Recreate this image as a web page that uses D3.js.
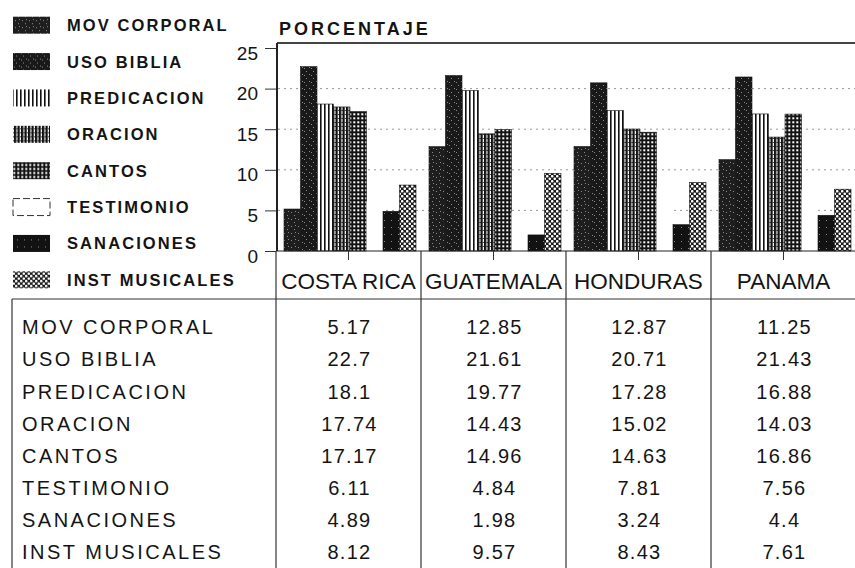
<!DOCTYPE html>
<html>
<head>
<meta charset="utf-8">
<script src="https://cdn.jsdelivr.net/npm/d3@7"></script>
<style>
    body { margin: 0; background: #fff; }
    svg text { font-family: "Liberation Sans", Arial, sans-serif; fill: #141414; }
</style>
</head>
<body>
<div class="container"></div>
<script>
const countries = ["COSTA RICA", "GUATEMALA", "HONDURAS", "PANAMA"];
const series = [
    "MOV CORPORAL", "USO BIBLIA", "PREDICACION", "ORACION",
    "CANTOS", "TESTIMONIO", "SANACIONES", "INST MUSICALES",
];
const costaRica = [5.17, 22.7, 18.1, 17.74, 17.17, 6.11, 4.89, 8.12];
const guatemala = [12.85, 21.61, 19.77, 14.43, 14.96, 4.84, 1.98, 9.57];
const honduras = [12.87, 20.71, 17.28, 15.02, 14.63, 7.81, 3.24, 8.43];
const panama = [11.25, 21.43, 16.88, 14.03, 16.86, 7.56, 4.4, 7.61];
const yTicks = [0, 5, 10, 15, 20, 25];
const gridTicks = [5, 10, 15, 20];

const values = [costaRica, guatemala, honduras, panama];

const w = 855;
const h = 568;

const svg = d3
    .select(".container")
    .append("svg")
    .attr("width", w)
    .attr("height", h);

// fill patterns, imitating the printed hatches
const defs = svg.append("defs");
const addPattern = (id, size, draw) => {
    const p = defs.append("pattern")
        .attr("id", id)
        .attr("patternUnits", "userSpaceOnUse")
        .attr("width", size[0])
        .attr("height", size[1]);
    draw(p);
};
const speckle = (bg, dots) => (p) => {
    p.append("rect").attr("width", 7).attr("height", 7).attr("fill", bg);
    dots.forEach(([x, y]) =>
        p.append("rect").attr("x", x).attr("y", y).attr("width", 1).attr("height", 1).attr("fill", "#8a8a8a"));
};
addPattern("p0", [7, 7], speckle("#1e1e1e", [[1, 2], [4, 5], [5, 1]]));
addPattern("p1", [7, 7], speckle("#191919", [[2, 1], [5, 4], [0, 5]]));
addPattern("p2", [4, 4], (p) => {
    p.append("rect").attr("width", 4).attr("height", 4).attr("fill", "#fff");
    p.append("rect").attr("width", 1.6).attr("height", 4).attr("fill", "#111");
});
addPattern("p3", [3.5, 4], (p) => {
    p.append("rect").attr("width", 3.5).attr("height", 4).attr("fill", "#fff");
    p.append("rect").attr("width", 2.3).attr("height", 4).attr("fill", "#111");
    p.append("rect").attr("x", 2.3).attr("y", 2).attr("width", 1.2).attr("height", 1).attr("fill", "#444");
});
addPattern("p4", [4, 4], (p) => {
    p.append("rect").attr("width", 4).attr("height", 4).attr("fill", "#141414");
    p.append("rect").attr("x", 1.3).attr("y", 1.3).attr("width", 2).attr("height", 2).attr("fill", "#fff");
});
addPattern("p5", [4, 4], (p) => {
    p.append("rect").attr("width", 4).attr("height", 4).attr("fill", "#fff");
});
addPattern("p6", [7, 7], speckle("#121212", [[3, 3]]));
addPattern("p7", [5, 5], (p) => {
    p.append("rect").attr("width", 5).attr("height", 5).attr("fill", "#1a1a1a");
    p.append("circle").attr("cx", 1.25).attr("cy", 1.25).attr("r", 1.3).attr("fill", "#fff");
    p.append("circle").attr("cx", 3.75).attr("cy", 3.75).attr("r", 1.3).attr("fill", "#fff");
});

const xScale = d3.scaleBand().domain(countries).range([276, 856]);
const xInner = d3.scaleBand().domain(series).range([8, 140]);
const yScale = d3.scaleLinear().domain([0, 25]).range([251, 48]);

// title
svg.append("text")
    .attr("x", 279)
    .attr("y", 35)
    .attr("font-size", 18)
    .attr("font-weight", "bold")
    .attr("letter-spacing", 3)
    .text("PORCENTAJE");

// dotted grid
svg.append("g")
    .selectAll("line")
    .data(gridTicks)
    .enter()
    .append("line")
    .attr("x1", 278)
    .attr("x2", 856)
    .attr("y1", (d) => yScale(d))
    .attr("y2", (d) => yScale(d))
    .attr("stroke", "#999")
    .attr("stroke-width", 1)
    .attr("stroke-dasharray", "2,4");

// bars
const groups = svg.selectAll(".country")
    .data(countries)
    .enter()
    .append("g")
    .attr("class", "country")
    .attr("transform", (d) => `translate(${xScale(d)},0)`);

groups.selectAll("rect")
    .data((d, i) => values[i].map((v, j) => ({ s: series[j], v, j })))
    .enter()
    .append("rect")
    .attr("x", (d) => xInner(d.s))
    .attr("width", xInner.bandwidth())
    .attr("y", (d) => yScale(d.v))
    .attr("height", (d) => yScale(0) - yScale(d.v))
    .attr("fill", (d) => `url(#p${d.j})`)
    .attr("stroke", (d) => (d.j === 5 ? "none" : "#111"))
    .attr("stroke-width", 0.6);

// frame and axes
svg.append("line")
    .attr("x1", 277).attr("x2", 856)
    .attr("y1", 43).attr("y2", 43)
    .attr("stroke", "#444").attr("stroke-width", 2);
svg.append("line")
    .attr("x1", 277).attr("x2", 277)
    .attr("y1", 43).attr("y2", yScale(0))
    .attr("stroke", "#222").attr("stroke-width", 2);
svg.append("line")
    .attr("x1", 276).attr("x2", 856)
    .attr("y1", yScale(0)).attr("y2", yScale(0))
    .attr("stroke", "#222").attr("stroke-width", 1.2);

const yAxis = d3.axisLeft(yScale).tickValues(yTicks).tickSize(11).tickSizeOuter(0).tickPadding(7);
const yG = svg.append("g")
    .attr("id", "y-axis")
    .attr("transform", "translate(276, 0)")
    .call(yAxis);
yG.select(".domain").remove();
yG.selectAll("line").attr("stroke", "#333");
yG.selectAll("text")
    .attr("y", 5)
    .attr("font-size", 19)
    .attr("font-family", "Liberation Sans, Arial, sans-serif")
    .attr("fill", "#141414");

const xAxis = d3.axisBottom(xScale).tickSize(9).tickSizeOuter(0).tickFormat("");
const xG = svg.append("g")
    .attr("id", "x-axis")
    .attr("transform", `translate(0, ${yScale(0)})`)
    .call(xAxis);
xG.select(".domain").remove();
xG.selectAll("line").attr("stroke", "#333");

// legend
const legendY = d3.scaleBand().domain(series).range([7, 298]);
const legend = svg.selectAll(".legend")
    .data(series)
    .enter()
    .append("g")
    .attr("class", "legend")
    .attr("transform", (d) => `translate(0, ${legendY(d) + legendY.bandwidth() / 2})`);
legend.append("rect")
    .attr("x", 13)
    .attr("y", -8.5)
    .attr("width", 37)
    .attr("height", 17)
    .attr("fill", (d, i) => `url(#p${i})`)
    .attr("stroke", (d, i) => (i === 5 ? "#333" : "none"))
    .attr("stroke-dasharray", (d, i) => (i === 5 ? "7,3" : null));
legend.append("text")
    .attr("x", 67)
    .attr("dy", "0.36em")
    .attr("font-size", 16.5)
    .attr("font-weight", "bold")
    .attr("letter-spacing", 2.1)
    .text((d) => d);

// data table
const table = svg.append("g").attr("id", "table");
table.append("line")
    .attr("x1", 12).attr("x2", 856)
    .attr("y1", 299).attr("y2", 299)
    .attr("stroke", "#333").attr("stroke-width", 1.2);
table.append("line")
    .attr("x1", 12).attr("x2", 12)
    .attr("y1", 299).attr("y2", h)
    .attr("stroke", "#333").attr("stroke-width", 1.2);
table.selectAll(".col")
    .data(countries)
    .enter()
    .append("line")
    .attr("class", "col")
    .attr("x1", (d) => xScale(d)).attr("x2", (d) => xScale(d))
    .attr("y1", yScale(0)).attr("y2", h)
    .attr("stroke", "#333").attr("stroke-width", 1.2);

table.selectAll(".head")
    .data(countries)
    .enter()
    .append("text")
    .attr("class", "head")
    .attr("x", (d) => xScale(d) + xScale.bandwidth() / 2)
    .attr("y", 289)
    .attr("text-anchor", "middle")
    .attr("font-size", 22.5)
    .text((d) => d);

const rowY = d3.scaleBand().domain(series).range([311, 568]);
table.selectAll(".rowlabel")
    .data(series)
    .enter()
    .append("text")
    .attr("class", "rowlabel")
    .attr("x", 22)
    .attr("y", (d) => rowY(d) + rowY.bandwidth() / 2)
    .attr("dy", "0.36em")
    .attr("font-size", 20)
    .attr("letter-spacing", 2.5)
    .text((d) => d);

countries.forEach((c, ci) => {
    table.selectAll(`.val${ci}`)
        .data(values[ci])
        .enter()
        .append("text")
        .attr("x", xScale(c) + xScale.bandwidth() / 2 + 1)
        .attr("y", (d, i) => rowY(series[i]) + rowY.bandwidth() / 2)
        .attr("dy", "0.36em")
        .attr("text-anchor", "middle")
        .attr("font-size", 20)
        .attr("letter-spacing", 1.3)
        .text((d) => d);
});
</script>
</body>
</html>
